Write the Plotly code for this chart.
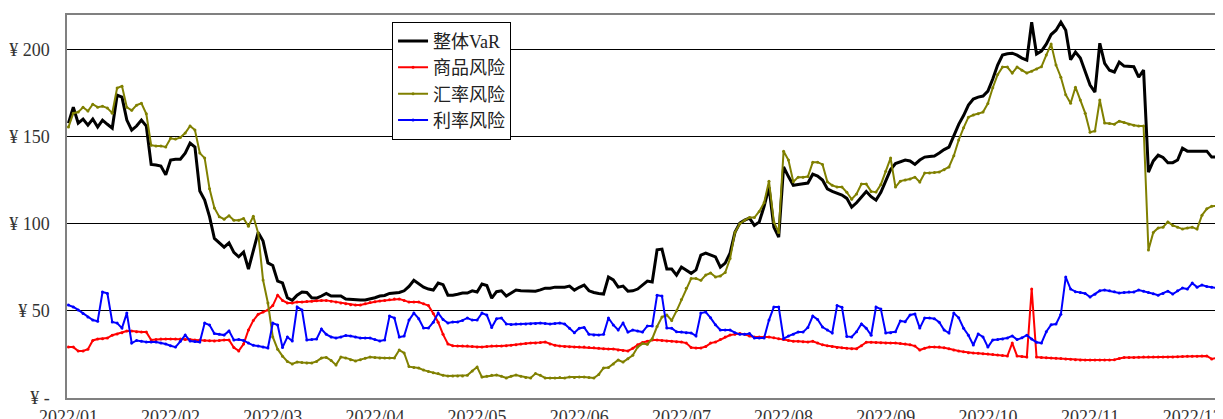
import plotly.graph_objects as go

month_labels = ["2022/01", "2022/02", "2022/03", "2022/04", "2022/05", "2022/06",
                "2022/07", "2022/08", "2022/09", "2022/10", "2022/11", "2022/12"]
points_per_label = 21

y_tick_vals = [0, 50, 100, 150, 200]
y_tick_text = ["¥ -", "¥ 50", "¥ 100", "¥ 150", "¥ 200"]

series_names = ["整体VaR", "商品风险", "汇率风险", "利率风险"]

total_var = [
    157.7, 166.8, 157.7, 160, 156.5, 160, 155.4, 159.4, 157, 154.8,
    173.7, 172.6, 159.4, 153.7, 156, 159.4, 156, 134, 133.6, 133,
    128, 136.5, 137, 137, 140.5, 146.2, 144, 118.7, 113.5, 104,
    91.5, 89, 86.5, 89, 83.5, 81, 83.7, 74, 85, 95,
    90, 77.5, 76, 67, 66, 57.5, 56, 59, 60.8, 60.5,
    57.5, 57.3, 58.5, 60, 58.5, 58.5, 58.5, 56.8, 56.5, 56.3,
    56.2, 56.2, 56.8, 57.5, 58.5, 58.8, 60, 60.2, 60.5, 61.5,
    64, 67.5, 65.5, 63.6, 62.5, 61.9, 65.9, 65, 59, 59,
    59.5, 60.2, 60.2, 61.5, 60.8, 65.4, 64.5, 57.3, 61, 61.5,
    58.5, 60, 61.9, 61.5, 61.3, 61.3, 61.3, 62, 63, 63,
    63.6, 63.6, 63.6, 64.2, 61.9, 63.5, 64.8, 61.5, 60.5, 60,
    59.6, 69.4, 67.7, 63.6, 64.2, 61.3, 61.5, 62.5, 64.8, 67.1,
    66.5, 85, 85.4, 74, 74, 70.5, 75.1, 73.5, 71.5, 73.5,
    82, 83.1, 82, 80.9, 75.1, 77.4, 83.1, 95, 100.3, 102,
    103.2, 99, 101, 110, 121, 98, 92.3, 132.5, 127, 122,
    122.5, 123, 123.3, 128.4, 127.3, 125, 120, 118.5, 117.5, 116.4,
    114.5, 109.5, 112, 115.2, 118.5, 115.5, 113.5, 118, 125, 131,
    134.5, 135.3, 136.5, 136, 134, 136.5, 138.2, 138.5, 138.8, 140.5,
    142.5, 143.9, 150, 157, 162, 168, 171.5, 172.6, 173.2, 176,
    183, 191, 196.7, 197.5, 197.8, 196.7, 195, 193.8, 215.6, 197.3,
    199, 203, 208.5, 211, 215.6, 211, 194, 198.4, 195, 187,
    179.5, 175.5, 203.5, 192, 188, 187, 192.7, 190.4, 190.4, 190,
    184, 188.1, 129.6, 136, 139.3, 138, 135, 135, 136.5, 143.3,
    141.6, 141.6, 141.6, 141.6, 141.6, 138.2, 138.2,
]

commodity = [
    29.2, 29.2, 27, 27, 28, 33, 33.8, 34, 34.4, 36,
    36.7, 37.5, 38.4, 38.4, 38, 37.8, 37.8, 33.3, 33.5, 33.8,
    33.8, 33.8, 33.8, 33.8, 33.5, 33.5, 33.3, 33.3, 33, 32.8,
    32.7, 33, 33.3, 33.3, 29, 27, 31, 39, 44.5, 48,
    49.3, 50.5, 53, 59, 56, 54.5, 54.5, 55, 55, 55.3,
    55.5, 55.8, 56, 56, 55.5, 55, 54.5, 54, 53.5, 53.3,
    53.3, 54, 54.8, 55.2, 55.6, 56, 56.4, 56.8, 56.8, 56,
    55, 55, 55, 54, 53, 48.5, 43.5, 36.5, 31, 30,
    29.8, 29.8, 29.8, 29.5, 29.2, 29.2, 29.5, 29.8, 29.8, 29.8,
    30, 30.3, 30.6, 31, 31.2, 31.5, 31.5, 31.8, 32.1, 31,
    30.2, 29.8, 29.6, 29.4, 29.2, 29.2, 29.2, 29, 28.8, 28.6,
    28.3, 28.1, 28.1, 27.6, 27.2, 27, 28.5, 30.5, 31.8, 32.5,
    33.3, 33.2, 33, 32.7, 32.5, 32.3, 32.1, 31.5, 29, 28.7,
    28.7, 29.5, 31.5, 32.1, 33.5, 35, 36.1, 36.5, 37, 36.5,
    35.5, 35, 35, 35, 35, 34.5, 34, 33.5, 33, 32.5,
    32.5, 32.3, 32.1, 32.5, 31.5, 30.5, 30, 29.5, 29, 28.8,
    28.5, 28.3, 28.3, 30, 32, 32, 31.8, 31.7, 31.6, 31.5,
    31.5, 31.3, 31, 30.5, 29.8, 27.5, 28.5, 29.2, 29.2, 29.2,
    28.8, 28.3, 27.5, 27, 26.5, 26, 25.8, 25.6, 25.4, 25.2,
    25, 24.7, 24.4, 24.1, 31.5, 24.1, 23.8, 23.5, 62.5, 23.5,
    23.3, 23.1, 22.9, 22.8, 22.6, 22.4, 22.2, 22, 21.8, 21.8,
    21.8, 21.8, 21.8, 21.8, 21.8, 22, 22.6, 23.2, 23.3, 23.3,
    23.4, 23.5, 23.5, 23.5, 23.5, 23.5, 23.5, 23.5, 23.7, 23.8,
    23.9, 24, 24, 24.1, 24.1, 22.4, 22.9,
]

fx = [
    155.4, 163.4, 164, 166.8, 164.6, 168.5, 166.8, 167.4, 166.3, 163.4,
    177.8, 178.9, 166.8, 165, 168, 169.1, 163, 145, 144.5, 144.5,
    144, 149, 148.5, 149.5, 152, 156, 153.7, 140.5, 137.6, 120,
    109, 104, 102.6, 104.5, 102, 102, 103, 98.5, 104.3, 94.6,
    67.7, 54.5, 35, 28, 24, 21, 19.5, 20.6, 20.3, 20.1,
    20.1, 21, 22.9, 23.3, 21.5, 19, 23.5, 23, 22, 21.2,
    22, 22.8, 23.5, 23.3, 23, 23, 22.9, 23, 27.5, 25.8,
    18, 17.5, 17.2, 16, 15.2, 14.5, 14, 13, 12.6, 12.6,
    12.6, 12.6, 13, 15.5, 17.8, 12, 12.5, 13, 13.2, 12.5,
    11.5, 12.5, 13.2, 12.5, 11.8, 11.5, 14, 13, 11.5, 11.5,
    11.5, 11.7, 11.5, 12, 11.8, 12, 12, 11.7, 11.5, 13.5,
    17.2, 17.5, 19.5, 21.8, 20.6, 22.5, 24.5, 29.2, 31.2, 30.8,
    34, 41, 46.4, 47.6, 44.5, 50, 56.5, 63, 68.5, 68.5,
    67.5, 70.5, 71.7, 69.4, 70, 72, 80, 95, 100, 102,
    103.5, 103.5, 107, 112, 124.4, 101, 95, 141.6, 136.5, 124,
    126.7, 126.7, 127, 135.3, 135.3, 134, 124, 122, 121, 121,
    118, 114, 117, 122.7, 122.7, 118.5, 118.1, 122.5, 130, 137.6,
    121, 124.4, 125, 125.6, 126.7, 123.9, 129, 129, 129.3, 129.6,
    131, 132.5, 139, 148, 155, 161.1, 162.3, 163, 164, 169,
    178, 185.5, 189.8, 189.8, 186.4, 189.8, 188, 186.4, 187.5, 188.7,
    190, 196.7, 203, 191, 184, 174, 169.1, 178.3, 171, 163.4,
    152.5, 153.1, 170.9, 157.7, 157.4, 157.1, 158.8, 158, 157, 156.5,
    156, 156, 84.9, 95, 97.5, 98, 101, 99, 98, 96.9,
    97.5, 98, 96.9, 104.9, 108.5, 110, 110.1,
]

rates = [
    53.3, 52.2, 50.5, 48.5, 46.5, 44.7, 44, 60.8, 60, 43.6,
    43, 40.1, 48.7, 31.5, 33, 32.5, 32.1, 32.1, 32.1, 31.5,
    31, 30, 29.2, 32.5, 36.1, 32.7, 32.4, 32.1, 43, 41.9,
    37, 36.5, 36.1, 38.5, 33.3, 33.5, 33, 31.5, 30.2, 29.8,
    29.2, 28.7, 43, 41.9, 29, 35, 32.7, 52.2, 50.5, 33.3,
    33.5, 33.8, 39.6, 36.5, 35, 34.4, 35, 35.8, 35.5, 35,
    34.4, 34.4, 34.4, 33.5, 32.7, 33.3, 47, 45.9, 35, 35.5,
    44.7, 48.7, 45.5, 40.1, 40.1, 43.5, 48.7, 45, 43, 43.6,
    43.6, 44.5, 45.9, 44.7, 44.7, 48.7, 47.6, 40.5, 45.5, 45.9,
    42.5, 42.2, 42.4, 42.4, 42.4, 42.6, 42.8, 43, 42.7, 42.4,
    42.7, 43, 42.5, 40, 37.5, 40, 40.5, 36.5, 36.1, 36.1,
    36.5, 45.9, 41.9, 39, 43, 37.8, 39, 38.5, 37.8, 41.3,
    41.3, 59, 58.5, 40.1, 40, 38, 37.8, 37.5, 37.3, 35.6,
    48.7, 49.3, 46, 42, 39, 39, 39, 37.5, 36.5, 36.5,
    37, 34.4, 34.4, 34.4, 44.7, 52.2, 52.2, 34, 35.5, 36.5,
    37.8, 37.8, 40.5, 47, 45, 40.7, 39, 37.3, 53, 52,
    35.3, 35, 38, 42.5, 40, 36, 52.2, 51, 37.3, 37.5,
    38, 44.2, 43.8, 47.6, 48.2, 40.1, 45.9, 45.9, 45.5, 43.5,
    39, 37.3, 48.7, 46, 40, 36, 30.4, 36.7, 35, 29.2,
    33.3, 33.6, 33.8, 34.4, 35.6, 33.5, 34.5, 36, 33.8, 32,
    31.5, 38, 42, 42.4, 48, 69.4, 62.5, 61, 60.5, 60,
    57.9, 59.5, 61.5, 62, 61.5, 61, 60.2, 60.5, 60.8, 60.8,
    61.9, 61.3, 60.5, 59.8, 59, 60, 61.3, 59.6, 61.5, 63.1,
    62.5, 65.9, 63.6, 64.8, 64, 63.5, 63.1,
]

FONT = "Liberation Serif, Noto Sans CJK SC, serif"

fig = go.Figure()
fig.add_trace(go.Scatter(y=total_var, name=series_names[0], mode="lines",
                         line=dict(color="#000000", width=3)))
fig.add_trace(go.Scatter(y=commodity, name=series_names[1], mode="lines+markers",
                         line=dict(color="#FF0000", width=2),
                         marker=dict(size=3, color="#FF0000")))
fig.add_trace(go.Scatter(y=fx, name=series_names[2], mode="lines+markers",
                         line=dict(color="#808000", width=2),
                         marker=dict(size=3, color="#808000")))
fig.add_trace(go.Scatter(y=rates, name=series_names[3], mode="lines+markers",
                         line=dict(color="#0000FF", width=2),
                         marker=dict(size=3, color="#0000FF")))

n = len(total_var)
fig.update_layout(
    template="none",
    width=1215, height=411,
    margin=dict(l=59, r=5, t=7, b=21, autoexpand=False),
    paper_bgcolor="white", plot_bgcolor="white",
    font=dict(family=FONT, size=18, color="#333333"),
    showlegend=True,
    legend=dict(x=0.2824, y=0.9825, xanchor="left", yanchor="top",
                bgcolor="white", bordercolor="#000000", borderwidth=1,
                font=dict(family=FONT, size=18, color="#222222"),
                itemwidth=30, tracegroupgap=0),
    xaxis=dict(
        range=[-0.3, n - 0.7],
        tickmode="array",
        tickvals=[i * points_per_label for i in range(len(month_labels))],
        ticktext=month_labels,
        showgrid=False, zeroline=False,
        showline=True, linecolor="#808080", linewidth=1.5, mirror=True,
        ticks="", automargin=False, ticklabelstandoff=2,
        tickfont=dict(family=FONT, size=18, color="#333333"),
    ),
    yaxis=dict(
        range=[0, 219.7],
        tickmode="array", tickvals=y_tick_vals, ticktext=y_tick_text,
        showgrid=True, gridcolor="#000000", gridwidth=1,
        zeroline=False,
        showline=True, linecolor="#808080", linewidth=1.5, mirror=True,
        ticks="", automargin=False, ticklabelstandoff=12,
        tickfont=dict(family=FONT, size=18, color="#333333"),
    ),
)

fig.write_html("out.html")
